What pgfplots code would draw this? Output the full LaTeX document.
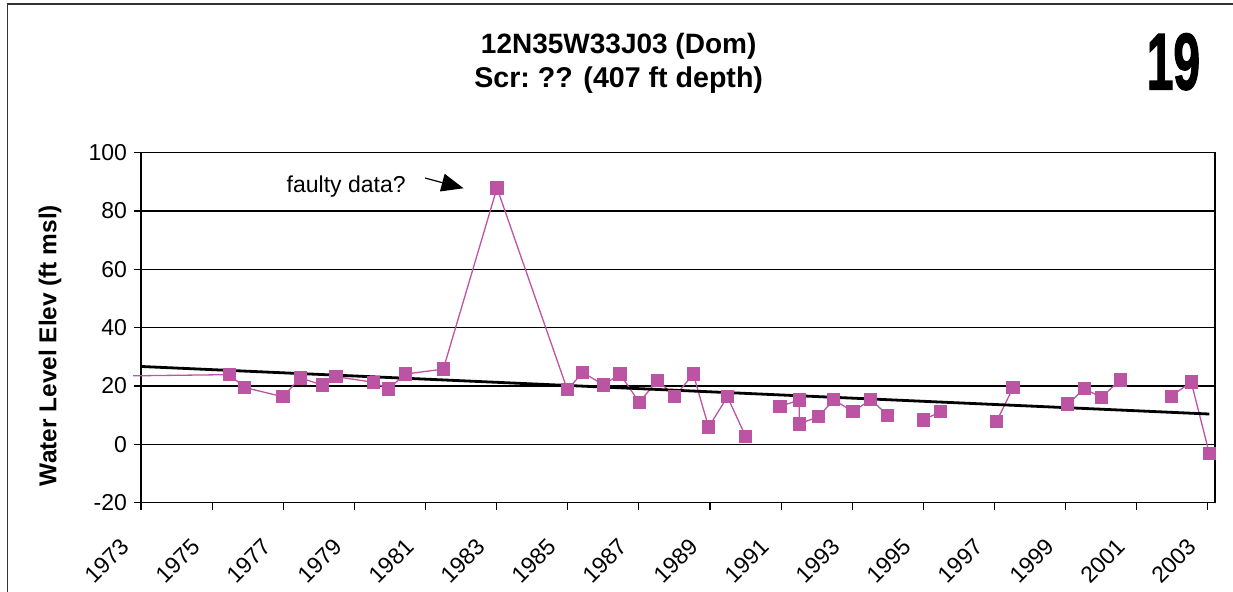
\documentclass[border=0pt]{standalone}
\usepackage{fontspec}
\setmainfont{Liberation Sans}
\usepackage{pgfplots}
\pgfplotsset{compat=1.18}
\usetikzlibrary{arrows.meta}

\definecolor{plum}{RGB}{188,84,164}

\begin{document}
\begin{tikzpicture}
\begin{axis}[
    name=ax,
    at={(0,0)}, anchor=south west,
    width=537pt, height=175pt,
    scale only axis,
    xmin=1973, xmax=2003.2,
    ymin=-20, ymax=100,
    xtick={1973,1975,...,2003},
    ytick={-20,0,...,100},
    tick pos=left,
    tick align=outside,
    major tick length=3.5pt,
    tick style={black, line width=0.6pt},
    axis line style={black, line width=0.6pt},
    ymajorgrids=true,
    grid style={black, line width=0.6pt},
    /pgf/number format/1000 sep={},
    /pgf/number format/assume math mode=true,
    ticklabel style={font=\fontsize{11.5}{13}\selectfont},
    xticklabel style={xshift=-5.5pt, yshift=-14pt, rotate=45, anchor=east},
    unbounded coords=jump,
    clip=false,
]

% line running in from an earlier reading, no marker
\addplot[plum, line width=0.65pt, mark=none] coordinates {
    (1972.78, 23.5) (1975.48, 23.9)
};

% measured water levels
\addplot[plum, line width=0.65pt, mark=square*, mark size=3pt,
    mark options={fill=plum, draw=plum, solid}] coordinates {
    (1975.48, 23.9)
    (1975.92, 19.5)
    (1976.99, 16.3)
    (1977.48, 22.8)
    (1978.10, 20.3)
    (1978.48, 23.2)
    (1979.53, 21.3)
    (1979.96, 19.0)
    (1980.43, 24.1)
    (1981.50, 25.8)
    (1983.01, 87.9)
    (1984.99, 18.7)
    (1985.42, 24.7)
    (1986.00, 20.4)
    (1986.47, 24.1)
    (1987.01, 14.4)
    (1987.53, 22.0)
    (1988.01, 16.4)
    (1988.53, 24.1)
    (1988.96, 5.9)
    (1989.49, 16.3)
    (1990.00, 2.8)
    (1990.50, nan)
    (1990.97, 13.0)
    (1991.51, 15.2)
    (1991.51, 7.0)
    (1992.05, 9.5)
    (1992.48, 15.3)
    (1993.02, 11.2)
    (1993.52, 15.3)
    (1994.00, 10.0)
    (1994.50, nan)
    (1995.00, 8.4)
    (1995.49, 11.2)
    (1996.20, nan)
    (1997.06, 7.9)
    (1997.52, 19.4)
    (1998.30, nan)
    (1999.06, 13.8)
    (1999.53, 19.1)
    (2000.00, 16.1)
    (2000.54, 22.1)
    (2001.20, nan)
    (2001.97, 16.5)
    (2002.53, 21.4)
    (2003.04, -3.1)
};

% linear trend
\addplot[black, line width=1.4pt, mark=none] coordinates {
    (1973.00, 26.7) (2003.04, 10.4)
};

\node[anchor=base, font=\fontsize{11.5}{13}\selectfont] at (axis cs:1978.77,86.4) {faulty data?};
\draw[-{Triangle[length=11pt,width=9pt]}, line width=0.6pt] (axis cs:1980.99,91.3) -- (axis cs:1982.07,87.8);
\end{axis}

% titles
\node[anchor=base, font=\fontsize{14}{16}\selectfont\bfseries] at (238.85pt,224.7pt) {12N35W33J03 (Dom)};
\node[anchor=base, font=\fontsize{14.3}{16}\selectfont\bfseries] at (238.85pt,207.6pt) {Scr:\ ?? (407 ft depth)};
\node[anchor=base, xscale=0.6, font=\fontsize{40}{44}\selectfont\bfseries\addfontfeatures{FakeBold=2}] at (516.2pt,206.7pt) {19};

% y axis label
\node[rotate=90, font=\fontsize{12.2}{14}\selectfont\bfseries] at (-45.5pt,78.6pt) {Water Level Elev (ft msl)};

% chart area border (top and left)
\draw[black!80, line width=0.75pt] (-66.85pt,-50pt) -- (-66.85pt,249.35pt) -- (550pt,249.35pt);

\pgfresetboundingbox
\path[use as bounding box] (-70.5pt,-44.65pt) rectangle (546pt,251.35pt);
\end{tikzpicture}
\end{document}
